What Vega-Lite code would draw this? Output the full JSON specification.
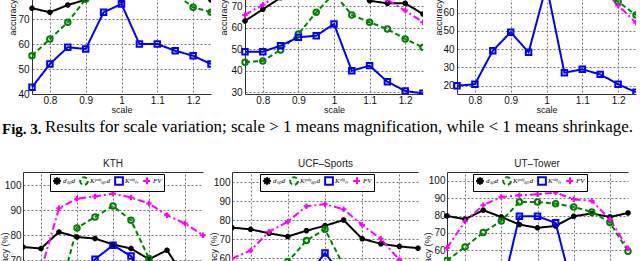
{
  "$schema": "https://vega.github.io/schema/vega-lite/v6.json",
  "autosize": {"type": "none"},
  "padding": {"left": 23, "top": -30, "right": 617, "bottom": 291},
  "background": "white",
  "config": {
    "view": {"stroke": null},
    "axis": {"labelFont": "Liberation Sans", "labelFontSize": 10, "labelColor": "#111", "titleFont": "Liberation Sans", "titleFontSize": 10, "titleFontWeight": "normal", "titleColor": "#111", "grid": true, "gridColor": "#777", "gridDash": [2, 2], "gridOpacity": 1, "domain": true, "domainColor": "#333", "ticks": false, "labelPadding": 3},
    "title": {"font": "Liberation Sans", "fontSize": 10, "fontWeight": "normal", "color": "#222", "offset": 3}
  },
  "datasets": {
    "t1": [
      {"x": 0.75, "d": 74.3, "kp": 55.3, "ko": 42.7, "fv": 80},
      {"x": 0.80, "d": 72.7, "kp": 62, "ko": 52, "fv": 85},
      {"x": 0.85, "d": 75.6, "kp": 68.7, "ko": 58.7, "fv": 88},
      {"x": 0.90, "d": 77.7, "kp": 78, "ko": 58, "fv": 91},
      {"x": 0.95, "d": 82, "kp": 84, "ko": 72.7, "fv": 93},
      {"x": 1.00, "d": 77.5, "kp": 88, "ko": 76, "fv": 95},
      {"x": 1.05, "d": 84, "kp": 87, "ko": 60, "fv": 93},
      {"x": 1.10, "d": 83, "kp": 84, "ko": 60, "fv": 91},
      {"x": 1.15, "d": 82, "kp": 80, "ko": 57.3, "fv": 88},
      {"x": 1.20, "d": 80, "kp": 74.7, "ko": 55.3, "fv": 85},
      {"x": 1.25, "d": 77.6, "kp": 72.7, "ko": 52, "fv": 80}
    ],
    "t2": [
      {"x": 0.75, "d": 63.2, "kp": 44, "ko": 48.9, "fv": 66},
      {"x": 0.80, "d": 68.6, "kp": 44.6, "ko": 48.9, "fv": 70.7},
      {"x": 0.85, "d": 74, "kp": 49.7, "ko": 51.7, "fv": 76},
      {"x": 0.90, "d": 77, "kp": 57.1, "ko": 55.6, "fv": 82},
      {"x": 0.95, "d": 78, "kp": 67.2, "ko": 56.3, "fv": 86},
      {"x": 1.00, "d": 80, "kp": 76, "ko": 61.8, "fv": 88},
      {"x": 1.05, "d": 77, "kp": 66, "ko": 40, "fv": 84},
      {"x": 1.10, "d": 72.6, "kp": 62.6, "ko": 42.4, "fv": 78},
      {"x": 1.15, "d": 71.4, "kp": 59.4, "ko": 34.9, "fv": 73},
      {"x": 1.20, "d": 71.4, "kp": 54.8, "ko": 30.6, "fv": 68},
      {"x": 1.25, "d": 66.4, "kp": 50.9, "ko": 29.5, "fv": 62.6}
    ],
    "t3": [
      {"x": 0.75, "d": 78, "kp": 70, "ko": 20, "fv": 72},
      {"x": 0.80, "d": 80, "kp": 75, "ko": 20.8, "fv": 78},
      {"x": 0.85, "d": 82, "kp": 80, "ko": 39.2, "fv": 85},
      {"x": 0.90, "d": 80, "kp": 85, "ko": 49.3, "fv": 90},
      {"x": 0.95, "d": 77, "kp": 88, "ko": 38.3, "fv": 92},
      {"x": 1.00, "d": 76, "kp": 88, "ko": 75, "fv": 93},
      {"x": 1.05, "d": 77, "kp": 85, "ko": 27.1, "fv": 90},
      {"x": 1.10, "d": 80, "kp": 80, "ko": 29, "fv": 85},
      {"x": 1.15, "d": 80, "kp": 72, "ko": 26.2, "fv": 75},
      {"x": 1.20, "d": 79, "kp": 66, "ko": 20.8, "fv": 64},
      {"x": 1.25, "d": 80, "kp": 58.7, "ko": 16.4, "fv": 54.5}
    ],
    "b1": [
      {"x": 1, "d": 75.3, "kp": 45, "ko": 40, "fv": 55},
      {"x": 2, "d": 74.7, "kp": 50, "ko": 45, "fv": 66},
      {"x": 3, "d": 81.3, "kp": 56, "ko": 55, "fv": 90.8},
      {"x": 4, "d": 79.3, "kp": 82.9, "ko": 62, "fv": 94.6},
      {"x": 5, "d": 78.7, "kp": 87.3, "ko": 70.4, "fv": 95.5},
      {"x": 6, "d": 76.3, "kp": 91.7, "ko": 76, "fv": 96.7},
      {"x": 7, "d": 74.7, "kp": 86, "ko": 71.7, "fv": 95.1},
      {"x": 8, "d": 70.4, "kp": 70.7, "ko": 60, "fv": 92.7},
      {"x": 9, "d": 74, "kp": 58, "ko": 55, "fv": 88},
      {"x": 10, "d": 63, "kp": 50, "ko": 45, "fv": 84.7},
      {"x": 11, "d": 60, "kp": 45, "ko": 40, "fv": 80}
    ],
    "b2": [
      {"x": 1, "d": 76, "kp": 40, "ko": 30, "fv": 59.7},
      {"x": 2, "d": 75.1, "kp": 45, "ko": 35, "fv": 64},
      {"x": 3, "d": 73, "kp": 50, "ko": 40, "fv": 73.9},
      {"x": 4, "d": 71.3, "kp": 58, "ko": 45, "fv": 79.1},
      {"x": 5, "d": 74.4, "kp": 69.2, "ko": 50, "fv": 87.3},
      {"x": 6, "d": 77, "kp": 75.1, "ko": 62.6, "fv": 88.3},
      {"x": 7, "d": 80, "kp": 56, "ko": 50, "fv": 85.7},
      {"x": 8, "d": 70.1, "kp": 45, "ko": 40, "fv": 77.4},
      {"x": 9, "d": 67.5, "kp": 40, "ko": 35, "fv": 70.1},
      {"x": 10, "d": 66.1, "kp": 38, "ko": 30, "fv": 59},
      {"x": 11, "d": 65.2, "kp": 35, "ko": 28, "fv": 50}
    ],
    "b3": [
      {"x": 1, "d": 79.8, "kp": 54, "ko": 30, "fv": 61.3},
      {"x": 2, "d": 77.9, "kp": 61.9, "ko": 30, "fv": 76.7},
      {"x": 3, "d": 83.1, "kp": 70.2, "ko": 30, "fv": 86},
      {"x": 4, "d": 79.2, "kp": 76.9, "ko": 35, "fv": 90.8},
      {"x": 5, "d": 74.8, "kp": 87.9, "ko": 79.6, "fv": 91.7},
      {"x": 6, "d": 72.9, "kp": 87.9, "ko": 79.6, "fv": 92.3},
      {"x": 7, "d": 74, "kp": 86.9, "ko": 75.8, "fv": 93.3},
      {"x": 8, "d": 79.6, "kp": 85, "ko": 35, "fv": 89.4},
      {"x": 9, "d": 81.2, "kp": 82.1, "ko": 30, "fv": 88.5},
      {"x": 10, "d": 79.2, "kp": 76, "ko": 30, "fv": 77.9},
      {"x": 11, "d": 81.5, "kp": 59.4, "ko": 30, "fv": 61}
    ]
  },
  "columns": 3,
  "bounds": "flush",
  "align": "each",
  "spacing": {"row": 38, "column": 21},
  "concat": [
    {
      "width": 188, "height": 124,
      "data": {"name": "t1"},
      "encoding": {
        "x": {"field": "x", "type": "quantitative", "scale": {"domain": [0.75, 1.25], "range": [9, 188], "nice": false, "zero": false}, "axis": {"values": [0.8, 0.9, 1, 1.1, 1.2], "format": "~g", "title": "scale", "titleFontSize": 9, "titlePadding": 0, "labelPadding": 1}},
        "y": {"field": "v", "type": "quantitative", "scale": {"domain": [40, 89.6], "nice": false, "zero": false}, "axis": {"offset": -9, "values": [40, 50, 60, 70, 80], "title": "accuracy (%)", "titleFontSize": 9, "titleAngle": 270, "titleAlign": "left", "titleBaseline": "middle", "titleX": -20, "titleY": 65}}
      },
      "layer": [
        {"data": {"values": [{}]}, "mark": {"type": "rule", "color": "#333", "strokeWidth": 1}, "encoding": {"x": {"datum": 1.25}, "y": {"datum": 40}, "y2": {"datum": 89.6}}},
        {"transform": [{"fold": ["d", "kp", "ko", "fv"], "as": ["s", "v"]}], "mark": {"type": "line", "strokeWidth": 2, "clip": true},
         "encoding": {"color": {"field": "s", "type": "nominal", "scale": {"domain": ["d", "kp", "ko", "fv"], "range": ["#000000", "#008000", "#0000ff", "#ff00ff"]}, "legend": null},
                      "strokeDash": {"field": "s", "type": "nominal", "scale": {"domain": ["d", "kp", "ko", "fv"], "range": [[1, 0], [5, 3], [1, 0], [7, 3, 2, 3]]}, "legend": null}}},
        {"transform": [{"fold": ["d", "kp", "ko", "fv"], "as": ["s", "v"]}], "mark": {"type": "point", "filled": false, "strokeWidth": 2, "size": 30, "opacity": 1, "clip": true},
         "encoding": {"color": {"field": "s", "type": "nominal", "legend": null},
                      "shape": {"field": "s", "type": "nominal", "scale": {"domain": ["d", "kp", "ko", "fv"], "range": ["M-1,0L1,0M0,-1L0,1M-0.7,-0.7L0.7,0.7M-0.7,0.7L0.7,-0.7", "circle", "square", "M-1,0L1,0M0,-1L0,1"]}, "legend": null}}}
      ]
    },
    {
      "width": 191, "height": 124,
      "data": {"name": "t2"},
      "encoding": {
        "x": {"field": "x", "type": "quantitative", "scale": {"domain": [0.75, 1.25], "range": [13, 191], "nice": false, "zero": false}, "axis": {"values": [0.8, 0.9, 1, 1.1, 1.2], "format": "~g", "title": "scale", "titleFontSize": 9, "titlePadding": 0, "labelPadding": 1}},
        "y": {"field": "v", "type": "quantitative", "scale": {"domain": [29.2, 86.9], "nice": false, "zero": false}, "axis": {"offset": -13, "values": [30, 40, 50, 60, 70, 80], "title": "accuracy (%)", "titleFontSize": 9, "titleAngle": 270, "titleAlign": "left", "titleBaseline": "middle", "titleX": -22, "titleY": 65}}
      },
      "layer": [
        {"data": {"values": [{}]}, "mark": {"type": "rule", "color": "#333", "strokeWidth": 1}, "encoding": {"x": {"datum": 1.25}, "y": {"datum": 29.2}, "y2": {"datum": 86.9}}},
        {"transform": [{"fold": ["d", "kp", "ko", "fv"], "as": ["s", "v"]}], "mark": {"type": "line", "strokeWidth": 2, "clip": true},
         "encoding": {"color": {"field": "s", "type": "nominal", "scale": {"domain": ["d", "kp", "ko", "fv"], "range": ["#000000", "#008000", "#0000ff", "#ff00ff"]}, "legend": null},
                      "strokeDash": {"field": "s", "type": "nominal", "scale": {"domain": ["d", "kp", "ko", "fv"], "range": [[1, 0], [5, 3], [1, 0], [7, 3, 2, 3]]}, "legend": null}}},
        {"transform": [{"fold": ["d", "kp", "ko", "fv"], "as": ["s", "v"]}], "mark": {"type": "point", "filled": false, "strokeWidth": 2, "size": 30, "opacity": 1, "clip": true},
         "encoding": {"color": {"field": "s", "type": "nominal", "legend": null},
                      "shape": {"field": "s", "type": "nominal", "scale": {"domain": ["d", "kp", "ko", "fv"], "range": ["M-1,0L1,0M0,-1L0,1M-0.7,-0.7L0.7,0.7M-0.7,0.7L0.7,-0.7", "circle", "square", "M-1,0L1,0M0,-1L0,1"]}, "legend": null}}}
      ]
    },
    {
      "width": 192, "height": 124,
      "data": {"name": "t3"},
      "encoding": {
        "x": {"field": "x", "type": "quantitative", "scale": {"domain": [0.75, 1.25], "range": [13, 192], "nice": false, "zero": false}, "axis": {"values": [0.8, 0.9, 1, 1.1, 1.2], "format": "~g", "title": "scale", "titleFontSize": 9, "titlePadding": 0, "labelPadding": 1}},
        "y": {"field": "v", "type": "quantitative", "scale": {"domain": [15.45, 83.4], "nice": false, "zero": false}, "axis": {"offset": -13, "values": [20, 30, 40, 50, 60, 70, 80], "title": "accuracy (%)", "titleFontSize": 9, "titleAngle": 270, "titleAlign": "left", "titleBaseline": "middle", "titleX": -19, "titleY": 65}}
      },
      "layer": [
        {"data": {"values": [{}]}, "mark": {"type": "rule", "color": "#333", "strokeWidth": 1}, "encoding": {"x": {"datum": 1.25}, "y": {"datum": 15.45}, "y2": {"datum": 83.4}}},
        {"transform": [{"fold": ["d", "kp", "ko", "fv"], "as": ["s", "v"]}], "mark": {"type": "line", "strokeWidth": 2, "clip": true},
         "encoding": {"color": {"field": "s", "type": "nominal", "scale": {"domain": ["d", "kp", "ko", "fv"], "range": ["#000000", "#008000", "#0000ff", "#ff00ff"]}, "legend": null},
                      "strokeDash": {"field": "s", "type": "nominal", "scale": {"domain": ["d", "kp", "ko", "fv"], "range": [[1, 0], [5, 3], [1, 0], [7, 3, 2, 3]]}, "legend": null}}},
        {"transform": [{"fold": ["d", "kp", "ko", "fv"], "as": ["s", "v"]}], "mark": {"type": "point", "filled": false, "strokeWidth": 2, "size": 30, "opacity": 1, "clip": true},
         "encoding": {"color": {"field": "s", "type": "nominal", "legend": null},
                      "shape": {"field": "s", "type": "nominal", "scale": {"domain": ["d", "kp", "ko", "fv"], "range": ["M-1,0L1,0M0,-1L0,1M-0.7,-0.7L0.7,0.7M-0.7,0.7L0.7,-0.7", "circle", "square", "M-1,0L1,0M0,-1L0,1"]}, "legend": null}}}
      ]
    },
    {"width": 188, "height": 2, "title": {"text": "Fig. 3.", "anchor": "start", "font": "Liberation Serif", "fontSize": 15, "fontWeight": "bold", "color": "#000", "baseline": "alphabetic", "offset": 2, "dx": -21, "dy": 19}, "data": {"values": []}, "mark": "point"},
    {"width": 191, "height": 2, "title": {"text": "Results for scale variation; scale > 1 means magnification, while < 1 means shrinkage.", "anchor": "start", "font": "Liberation Serif", "fontSize": 17, "fontWeight": "normal", "color": "#000", "baseline": "alphabetic", "offset": 2, "dx": -187, "dy": 19}, "data": {"values": []}, "mark": "point"},
    {"width": 192, "height": 2, "data": {"values": []}, "mark": "point"},
    {
      "width": 188, "height": 120,
      "title": {"text": "KTH", "dx": -4},
      "data": {"name": "b1"},
      "encoding": {
        "x": {"field": "x", "type": "quantitative", "scale": {"domain": [1, 11], "range": [0, 180], "nice": false, "zero": false}, "axis": {"orient": "top", "values": [2, 4, 6, 8, 10], "labels": false, "title": null}},
        "y": {"field": "v", "type": "quantitative", "scale": {"domain": [57.3, 105.3], "nice": false, "zero": false}, "axis": {"values": [60, 70, 80, 90, 100], "title": "accuracy (%)", "titleFontSize": 9, "titleAngle": 270, "titleAlign": "right", "titleBaseline": "middle", "titleX": -19, "titleY": 60, "labelPadding": 2}}
      },
      "layer": [
        {"data": {"values": [{}]}, "mark": {"type": "rule", "color": "#333", "strokeWidth": 1}, "encoding": {"x": {"datum": 11}, "y": {"datum": 57.3}, "y2": {"datum": 105.3}}},
        {"transform": [{"fold": ["d", "kp", "ko", "fv"], "as": ["s", "v"]}], "mark": {"type": "line", "strokeWidth": 2, "clip": true},
         "encoding": {"color": {"field": "s", "type": "nominal", "scale": {"domain": ["d", "kp", "ko", "fv"], "range": ["#000000", "#008000", "#0000ff", "#ff00ff"]}, "legend": {"orient": "none", "legendX": 27, "legendY": 2, "direction": "horizontal", "title": null, "symbolType": "stroke", "symbolSize": 60, "symbolStrokeWidth": 2, "labelFont": "Liberation Serif", "labelFontStyle": "italic", "labelFontSize": 7, "labelColor": "#000", "labelOffset": 1, "columnPadding": 1, "gridAlign": "none", "padding": 2, "strokeColor": "#000", "fillColor": "#fff", "labelExpr": "{'d':'dₛₚd','kp':'Kᵖᵒˡʸₛₚd','ko':'Kᵒᵇʲₗ₊','fv':'FV'}[datum.value]"}},
                      "strokeDash": {"field": "s", "type": "nominal", "scale": {"domain": ["d", "kp", "ko", "fv"], "range": [[1, 0], [5, 3], [1, 0], [7, 3, 2, 3]]}, "legend": {"orient": "none", "legendX": 27, "legendY": 2, "direction": "horizontal", "title": null}}}},
        {"transform": [{"fold": ["d", "kp", "ko", "fv"], "as": ["s", "v"]}], "mark": {"type": "point", "filled": false, "strokeWidth": 2, "size": 30, "opacity": 1, "clip": true},
         "encoding": {"color": {"field": "s", "type": "nominal", "legend": null},
                      "shape": {"field": "s", "type": "nominal", "scale": {"domain": ["d", "kp", "ko", "fv"], "range": ["M-1,0L1,0M0,-1L0,1M-0.7,-0.7L0.7,0.7M-0.7,0.7L0.7,-0.7", "circle", "square", "M-1,0L1,0M0,-1L0,1"]}, "legend": null}}}
      ]
    },
    {
      "width": 191, "height": 120,
      "title": {"text": "UCF–Sports", "dx": -2},
      "data": {"name": "b2"},
      "encoding": {
        "x": {"field": "x", "type": "quantitative", "scale": {"domain": [1, 11], "range": [0, 186], "nice": false, "zero": false}, "axis": {"orient": "top", "values": [2, 4, 6, 8, 10], "labels": false, "title": null}},
        "y": {"field": "v", "type": "quantitative", "scale": {"domain": [42.1, 105.3], "nice": false, "zero": false}, "axis": {"values": [50, 60, 70, 80, 90, 100], "title": "accuracy (%)", "titleFontSize": 9, "titleAngle": 270, "titleAlign": "right", "titleBaseline": "middle", "titleX": -19, "titleY": 60, "labelPadding": 2}}
      },
      "layer": [
        {"data": {"values": [{}]}, "mark": {"type": "rule", "color": "#333", "strokeWidth": 1}, "encoding": {"x": {"datum": 11}, "y": {"datum": 42.1}, "y2": {"datum": 105.3}}},
        {"transform": [{"fold": ["d", "kp", "ko", "fv"], "as": ["s", "v"]}], "mark": {"type": "line", "strokeWidth": 2, "clip": true},
         "encoding": {"color": {"field": "s", "type": "nominal", "scale": {"domain": ["d", "kp", "ko", "fv"], "range": ["#000000", "#008000", "#0000ff", "#ff00ff"]}, "legend": {"orient": "none", "legendX": 28, "legendY": 2, "direction": "horizontal", "title": null, "symbolType": "stroke", "symbolSize": 60, "symbolStrokeWidth": 2, "labelFont": "Liberation Serif", "labelFontStyle": "italic", "labelFontSize": 7, "labelColor": "#000", "labelOffset": 1, "columnPadding": 1, "gridAlign": "none", "padding": 2, "strokeColor": "#000", "fillColor": "#fff", "labelExpr": "{'d':'dₛₚd','kp':'Kᵖᵒˡʸₛₚd','ko':'Kᵒᵇʲₗ₊','fv':'FV'}[datum.value]"}},
                      "strokeDash": {"field": "s", "type": "nominal", "scale": {"domain": ["d", "kp", "ko", "fv"], "range": [[1, 0], [5, 3], [1, 0], [7, 3, 2, 3]]}, "legend": {"orient": "none", "legendX": 28, "legendY": 2, "direction": "horizontal", "title": null}}}},
        {"transform": [{"fold": ["d", "kp", "ko", "fv"], "as": ["s", "v"]}], "mark": {"type": "point", "filled": false, "strokeWidth": 2, "size": 30, "opacity": 1, "clip": true},
         "encoding": {"color": {"field": "s", "type": "nominal", "legend": null},
                      "shape": {"field": "s", "type": "nominal", "scale": {"domain": ["d", "kp", "ko", "fv"], "range": ["M-1,0L1,0M0,-1L0,1M-0.7,-0.7L0.7,0.7M-0.7,0.7L0.7,-0.7", "circle", "square", "M-1,0L1,0M0,-1L0,1"]}, "legend": null}}}
      ]
    },
    {
      "width": 192, "height": 120,
      "title": {"text": "UT–Tower", "dx": -3},
      "data": {"name": "b3"},
      "encoding": {
        "x": {"field": "x", "type": "quantitative", "scale": {"domain": [1, 11], "range": [3, 184], "nice": false, "zero": false}, "axis": {"orient": "top", "values": [2, 4, 6, 8, 10], "labels": false, "title": null}},
        "y": {"field": "v", "type": "quantitative", "scale": {"domain": [35.8, 105.2], "nice": false, "zero": false}, "axis": {"offset": -3, "values": [40, 50, 60, 70, 80, 90, 100], "title": "accuracy (%)", "titleFontSize": 9, "titleAngle": 270, "titleAlign": "right", "titleBaseline": "middle", "titleX": -20, "titleY": 60, "labelPadding": 2}}
      },
      "layer": [
        {"data": {"values": [{}]}, "mark": {"type": "rule", "color": "#333", "strokeWidth": 1}, "encoding": {"x": {"datum": 11}, "y": {"datum": 35.8}, "y2": {"datum": 105.2}}},
        {"transform": [{"fold": ["d", "kp", "ko", "fv"], "as": ["s", "v"]}], "mark": {"type": "line", "strokeWidth": 2, "clip": true},
         "encoding": {"color": {"field": "s", "type": "nominal", "scale": {"domain": ["d", "kp", "ko", "fv"], "range": ["#000000", "#008000", "#0000ff", "#ff00ff"]}, "legend": {"orient": "none", "legendX": 29, "legendY": 2, "direction": "horizontal", "title": null, "symbolType": "stroke", "symbolSize": 60, "symbolStrokeWidth": 2, "labelFont": "Liberation Serif", "labelFontStyle": "italic", "labelFontSize": 7, "labelColor": "#000", "labelOffset": 1, "columnPadding": 1, "gridAlign": "none", "padding": 2, "strokeColor": "#000", "fillColor": "#fff", "labelExpr": "{'d':'dₛₚd','kp':'Kᵖᵒˡʸₛₚd','ko':'Kᵒᵇʲₗ₊','fv':'FV'}[datum.value]"}},
                      "strokeDash": {"field": "s", "type": "nominal", "scale": {"domain": ["d", "kp", "ko", "fv"], "range": [[1, 0], [5, 3], [1, 0], [7, 3, 2, 3]]}, "legend": {"orient": "none", "legendX": 29, "legendY": 2, "direction": "horizontal", "title": null}}}},
        {"transform": [{"fold": ["d", "kp", "ko", "fv"], "as": ["s", "v"]}], "mark": {"type": "point", "filled": false, "strokeWidth": 2, "size": 30, "opacity": 1, "clip": true},
         "encoding": {"color": {"field": "s", "type": "nominal", "legend": null},
                      "shape": {"field": "s", "type": "nominal", "scale": {"domain": ["d", "kp", "ko", "fv"], "range": ["M-1,0L1,0M0,-1L0,1M-0.7,-0.7L0.7,0.7M-0.7,0.7L0.7,-0.7", "circle", "square", "M-1,0L1,0M0,-1L0,1"]}, "legend": null}}}
      ]
    }
  ],
  "resolve": {"scale": {"x": "independent", "y": "independent", "color": "independent", "strokeDash": "independent", "shape": "independent"}, "legend": {"color": "independent", "strokeDash": "independent"}}
}
